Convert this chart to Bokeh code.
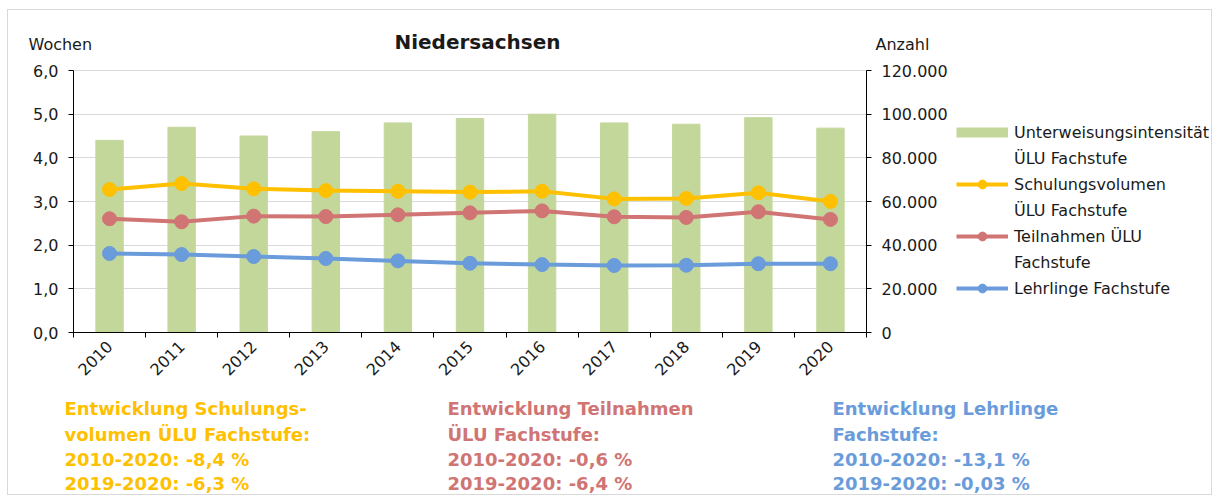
from math import pi
from bokeh.plotting import figure
from bokeh.models import (Range1d, LinearAxis, FixedTicker, Legend, LegendItem,
                          Label, ColumnDataSource, Grid)
from bokeh.embed import file_html
from bokeh.resources import INLINE

# ---------------- data ----------------
years = ["2010", "2011", "2012", "2013", "2014", "2015", "2016", "2017", "2018", "2019", "2020"]
intensitaet = [4.4, 4.7, 4.5, 4.6, 4.8, 4.9, 5.0, 4.8, 4.77, 4.92, 4.68]          # Wochen
volumen = [65500, 68200, 65800, 65000, 64700, 64300, 64700, 61200, 61400, 64000, 60000]
teilnahmen = [52100, 50700, 53300, 53100, 53900, 54800, 55700, 53000, 52700, 55300, 51800]
lehrlinge = [36200, 35700, 34800, 33900, 32800, 31700, 31100, 30700, 30800, 31500, 31500]
left_ticks = [0, 1, 2, 3, 4, 5, 6]
right_ticks = [0, 20000, 40000, 60000, 80000, 100000, 120000]

title_text = "Niedersachsen"
left_label = "Wochen"
right_label = "Anzahl"
notes = [
    ["Entwicklung Schulungs-", "volumen ÜLU Fachstufe:", "2010-2020: -8,4 %", "2019-2020: -6,3 %"],
    ["Entwicklung Teilnahmen", "ÜLU Fachstufe:", "2010-2020:  -0,6 %", "2019-2020:  -6,4 %"],
    ["Entwicklung Lehrlinge", "Fachstufe:", "2010-2020: -13,1 %", "2019-2020: -0,03 %"],
]

# ---------------- style / layout (pixels) ----------------
FONT = "DejaVu Sans"
C_BAR = "#C4D79B"
C_VOL = "#FFC000"
C_TEIL = "#D07474"
C_LEHR = "#6A9BDB"
TXT = "#1a1a1a"

W, H = 1205, 486
PL, PR, PT, PB = 65, 858, 60, 322          # plotting area inside the canvas

n = len(years)
y_max = left_ticks[-1]
r_max = right_ticks[-1]
kx = (PR - PL) / n
ky = (PB - PT) / y_max
x0, x1 = -PL / kx, n + (W - PR) / kx
y0, y1 = -(H - PB) / ky, y_max + PT / ky
rs = r_max / y_max

p = figure(width=W, height=H, output_backend="svg", toolbar_location=None,
           x_range=Range1d(x0, x1), y_range=Range1d(y0, y1),
           x_axis_location=None, y_axis_location=None,
           min_border=0, min_border_left=0, min_border_right=0,
           min_border_top=0, min_border_bottom=0,
           background_fill_color="white", border_fill_color="white",
           styles={"border": "1px solid #d9d9d9", "margin-left": "7px",
                   "margin-top": "9px"})
p.outline_line_color = None
p.grid.visible = False
p.extra_y_ranges = {"right": Range1d(y0 * rs, y1 * rs)}

# grid
g = Grid(dimension=1, ticker=FixedTicker(ticks=left_ticks), bounds=(0, y_max),
         grid_line_color="#d9d9d9")
if "cross_bounds" in Grid.properties():
    g.cross_bounds = (0, n)
    p.add_layout(g)
else:
    p.segment(x0=[0] * len(left_ticks), x1=[n] * len(left_ticks),
              y0=left_ticks, y1=left_ticks, line_color="#d9d9d9", line_width=1)

xs = [i + 0.5 for i in range(n)]
src = ColumnDataSource(dict(x=xs, intens=intensitaet, vol=volumen,
                            teil=teilnahmen, lehr=lehrlinge))

p.vbar(x="x", top="intens", width=0.38, source=src, color=C_BAR)

series = [("vol", C_VOL), ("teil", C_TEIL), ("lehr", C_LEHR)]
rend = {}
for key, col in series:
    l = p.line("x", key, source=src, y_range_name="right", line_width=4, color=col)
    s = p.scatter("x", key, source=src, y_range_name="right", size=14, color=col)
    rend[key] = [l, s]

# legend swatch for the bars (a single-point line: draws nothing in the plot)
bar_swatch = p.line(x=xs[:1], y=intensitaet[:1], line_width=10, color=C_BAR,
                    line_cap="butt")
spacer = p.scatter(x=xs[:1], y=intensitaet[:1], size=1, fill_alpha=0, line_alpha=0)

# axes
yax = LinearAxis(fixed_location=0, bounds=(0, y_max), ticker=FixedTicker(ticks=left_ticks))
yax.major_label_overrides = {v: f"{v:.1f}".replace(".", ",") for v in left_ticks}
p.add_layout(yax, "left")

rax = LinearAxis(fixed_location=n, y_range_name="right", bounds=(0, r_max),
                 ticker=FixedTicker(ticks=right_ticks))
rax.major_label_overrides = {v: f"{v:,}".replace(",", ".") for v in right_ticks}
p.add_layout(rax, "right")

xax = LinearAxis(fixed_location=0, bounds=(0, n),
                 ticker=FixedTicker(ticks=xs, minor_ticks=list(range(n + 1))))
xax.major_label_overrides = {x: y for x, y in zip(xs, years)}
xax.major_tick_out = 0
xax.major_tick_in = 0
xax.minor_tick_out = 5
xax.minor_tick_in = 0
xax.minor_tick_line_color = "black"
xax.major_label_orientation = pi / 4
xax.major_label_standoff = 6
p.add_layout(xax, "below")

for ax in (yax, rax):
    ax.major_tick_out = 5
    ax.major_tick_in = 0
    ax.minor_tick_out = 0
    ax.minor_tick_in = 0
    ax.major_label_standoff = 10
    ax.major_tick_line_color = "black"

for ax in (yax, rax, xax):
    ax.axis_line_color = "black"
    ax.major_label_text_font = FONT
    ax.major_label_text_font_size = "16px"
    ax.major_label_text_color = TXT

# legend
items = [
    LegendItem(label="Unterweisungsintensität", renderers=[bar_swatch]),
    LegendItem(label="ÜLU Fachstufe", renderers=[spacer]),
    LegendItem(label="Schulungsvolumen", renderers=rend["vol"]),
    LegendItem(label="ÜLU Fachstufe", renderers=[spacer]),
    LegendItem(label="Teilnahmen ÜLU", renderers=rend["teil"]),
    LegendItem(label="Fachstufe", renderers=[spacer]),
    LegendItem(label="Lehrlinge Fachstufe", renderers=rend["lehr"]),
]
leg = Legend(items=items, location=(948, 197), padding=0, margin=0, spacing=4,
             glyph_width=52, glyph_height=22, label_height=22, label_standoff=6,
             label_text_font=FONT, label_text_font_size="16px", label_text_color=TXT,
             background_fill_alpha=0, border_line_color=None)
p.add_layout(leg, "center")


# texts (screen units: from canvas left, from canvas bottom)
def lab(text, cx, cy, size="16px", style="normal", color=TXT, align="left"):
    p.add_layout(Label(x=cx, y=H - cy, x_units="screen", y_units="screen", text=text,
                       text_font=FONT, text_font_size=size, text_font_style=style,
                       text_color=color, text_align=align, text_baseline="middle"))


lab(title_text, 469, 31, size="20px", style="bold", align="center")
lab(left_label, 20, 34)
lab(right_label, 867, 34)

note_cols = [C_VOL, C_TEIL, C_LEHR]
note_x = [56, 439, 824]
note_y = [398, 424, 449, 473]
for lines, col, nx in zip(notes, note_cols, note_x):
    for t, ny in zip(lines, note_y):
        lab(t, nx, ny, size="18px", style="bold", color=col)

open("out.html", "w").write(file_html(p, INLINE))
